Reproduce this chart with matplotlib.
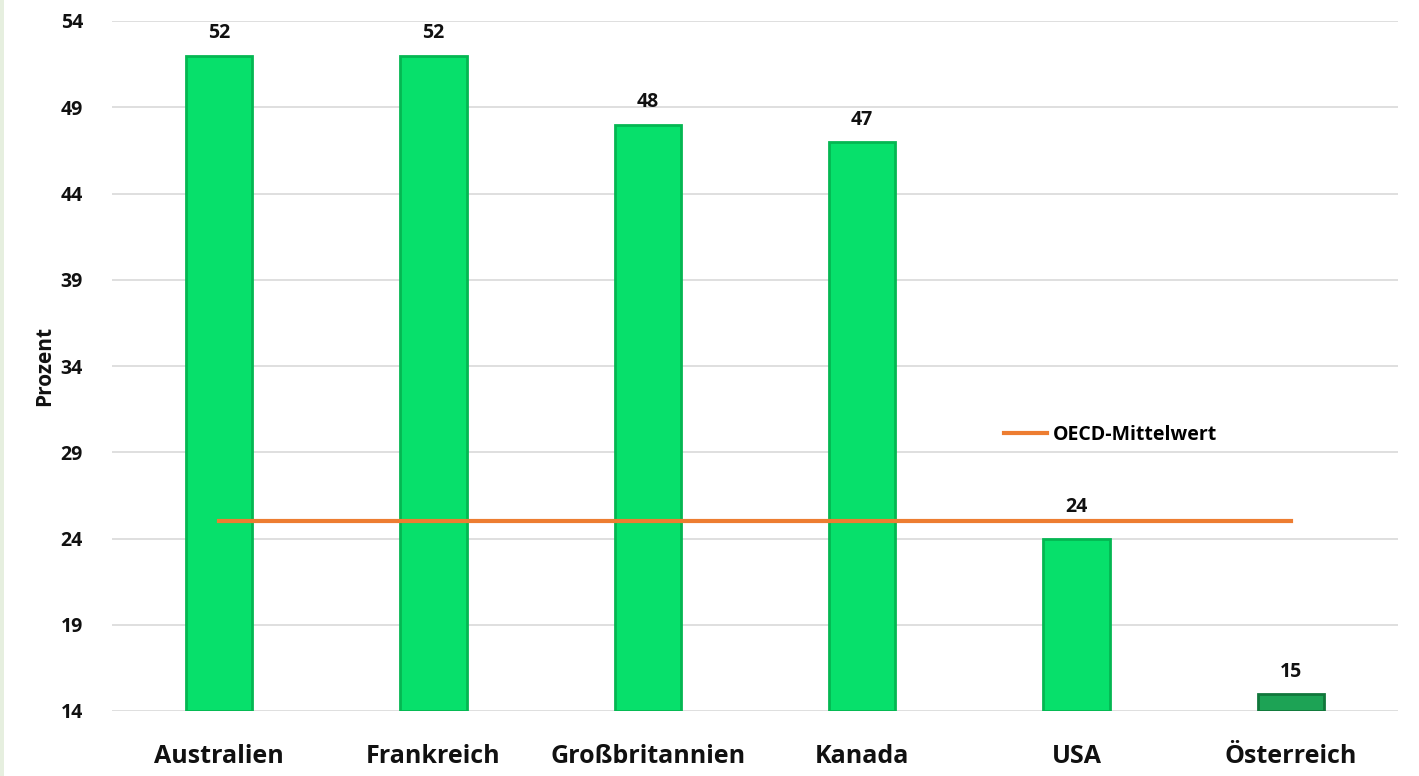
import numpy as np
import matplotlib
matplotlib.use("Agg")
import matplotlib.pyplot as plt
from matplotlib.patches import Rectangle

plt.rcParams['font.family'] = ['Open Sans', 'DejaVu Sans']
plt.rcParams['font.weight'] = 'bold'

laender = ['Australien', 'Frankreich', 'Großbritannien', 'Kanada', 'USA', 'Österreich']
prozent = [52, 52, 48, 47, 24, 15]
oecd_mittel = 25
yticks = [14, 19, 24, 29, 34, 39, 44, 49, 54]

farben = ['#07e06b'] * 5 + ['#1da355']
kanten = ['#04b752'] * 5 + ['#11773b']

fig = plt.figure(figsize=(14.19, 7.76), dpi=100)
ax = fig.add_axes([112 / 1419, 1 - 711 / 776, (1398 - 112) / 1419, 690 / 776])

# leichter Rand links
fig.patches.append(Rectangle((0, 0), 4 / 1419, 1, transform=fig.transFigure,
                             facecolor='#e6efdf', edgecolor='none'))

x = np.arange(len(laender))
basis = yticks[0]
hoehen = [p - basis for p in prozent]
bars = ax.bar(x, hoehen, bottom=basis, width=0.31, color=farben,
              edgecolor=kanten, linewidth=2, zorder=3)

for xi, p in zip(x, prozent):
    abstand = 1.25 if laender[xi] == 'USA' else 0.7   # USA-Beschriftung über der Linie
    ax.text(xi, p + abstand, str(p), ha='center', va='bottom', fontsize=14,
            fontweight='bold', color='#111111', zorder=5)

ax.plot([x[0], x[-1]], [oecd_mittel, oecd_mittel], color='#ed7d31',
        linewidth=3, zorder=4, label='OECD-Mittelwert')

ax.set_xlim(-0.5, len(laender) - 0.5)
ax.set_ylim(yticks[0], yticks[-1])
ax.set_yticks(yticks)
ax.set_yticklabels([str(t) for t in yticks], fontsize=14, fontweight='bold')
ax.set_xticks(x)
ax.set_xticklabels(laender, fontsize=18, fontweight='bold')
ax.tick_params(axis='both', length=0, colors='#111111')
ax.tick_params(axis='y', pad=21)
ax.tick_params(axis='x', pad=24)
ax.grid(axis='y', color='#d9d9d9', linewidth=1.2, zorder=0)
for s in ax.spines.values():
    s.set_visible(False)

ax.set_ylabel('Prozent', fontsize=15, fontweight='bold', color='#111111')
ax.yaxis.set_label_coords(-57 / 1286, 0.5)

ax.legend(loc='center left', bbox_to_anchor=(0.68, 0.40), frameon=False,
          handlelength=2.2, handletextpad=0.3,
          prop={'weight': 'bold', 'size': 14})

fig.savefig('out.png', dpi=100)
